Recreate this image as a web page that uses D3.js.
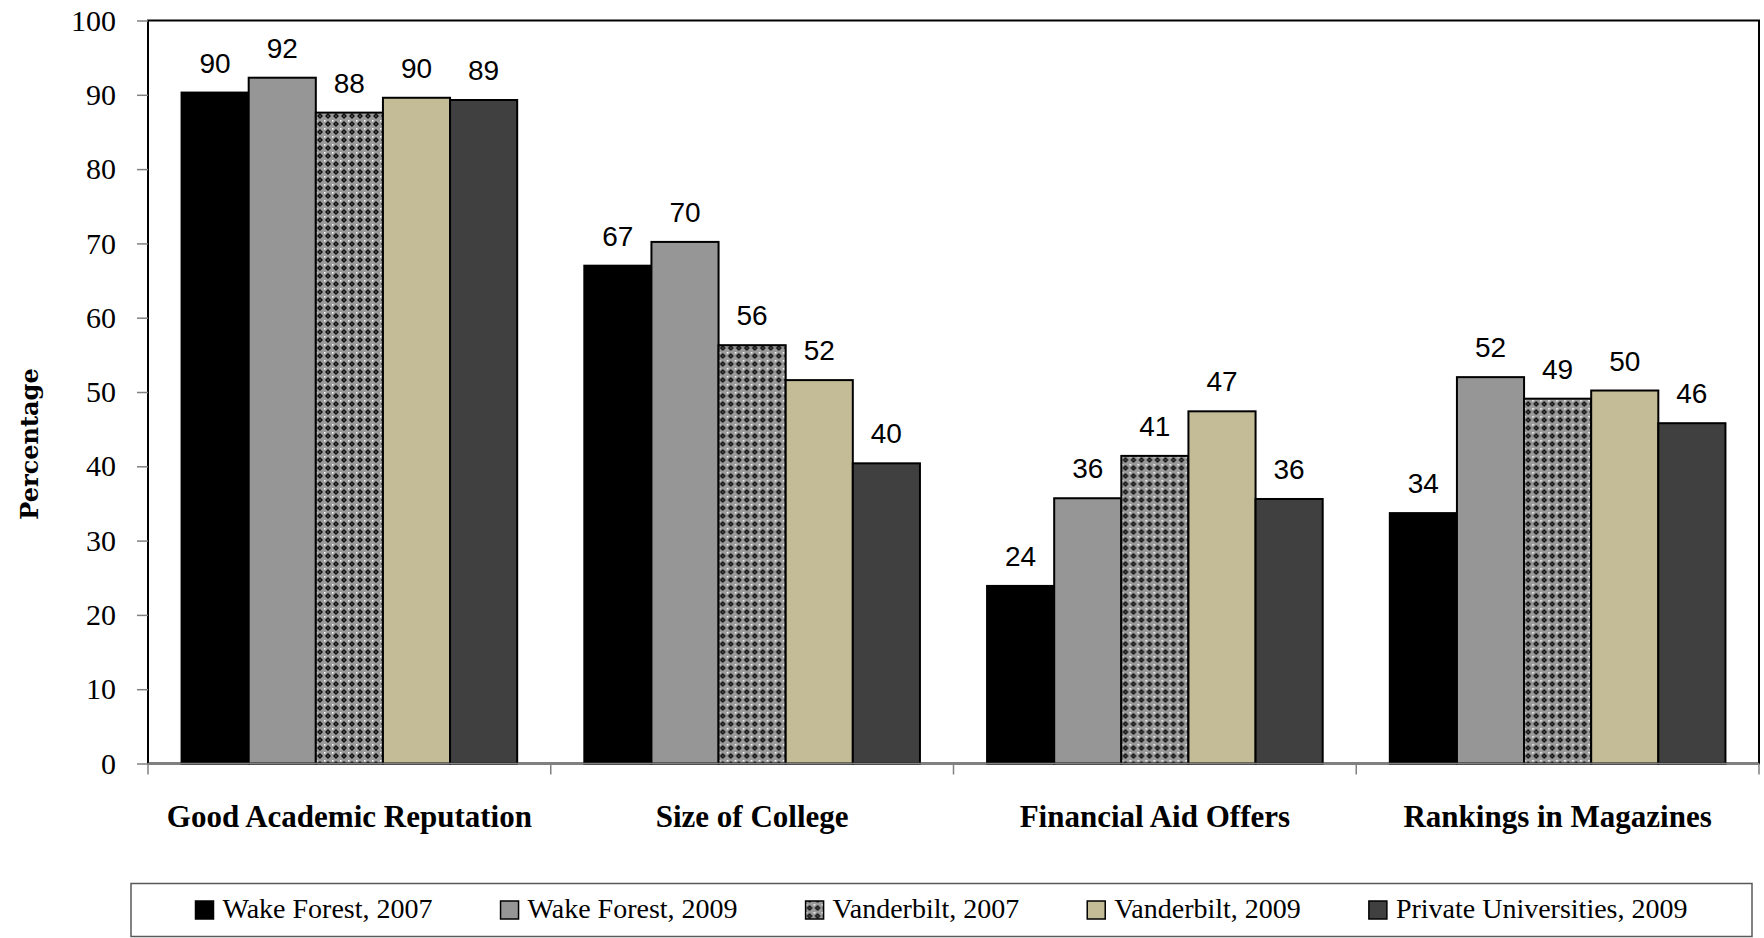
<!DOCTYPE html>
<html>
<head>
<meta charset="utf-8">
<script src="https://cdn.jsdelivr.net/npm/d3@7"></script>
<style>
    body { margin: 0; background: #fff; }
    svg { display: block; }
</style>
</head>
<body>
<div id="chart"></div>
<script>
// Chart data
const categories = ['Good Academic Reputation', 'Size of College', 'Financial Aid Offers', 'Rankings in Magazines'];
const seriesNames = ['Wake Forest, 2007', 'Wake Forest, 2009', 'Vanderbilt, 2007', 'Vanderbilt, 2009', 'Private Universities, 2009'];
const wakeForest2007 = [90.3, 67.0, 23.9, 33.7];
const wakeForest2009 = [92.3, 70.2, 35.7, 52.0];
const vanderbilt2007 = [87.6, 56.3, 41.4, 49.1];
const vanderbilt2009 = [89.6, 51.6, 47.4, 50.2];
const private2009 = [89.3, 40.4, 35.6, 45.8];
const yTicks = [0, 10, 20, 30, 40, 50, 60, 70, 80, 90, 100];

const seriesValues = [wakeForest2007, wakeForest2009, vanderbilt2007, vanderbilt2009, private2009];
const fills = ['#000000', '#969696', 'url(#diamonds)', '#c4bc96', '#404040'];

const width = 1764, height = 938;
const plot = { left: 148, right: 1759, top: 20.5, bottom: 763.5 };

const svg = d3.select('#chart')
    .append('svg')
    .attr('width', width)
    .attr('height', height);

// Pattern for the Vanderbilt 2007 bars
const defs = svg.append('defs');
const pat = defs.append('pattern')
    .attr('id', 'diamonds')
    .attr('patternUnits', 'userSpaceOnUse')
    .attr('width', 8)
    .attr('height', 8);
pat.append('rect').attr('width', 8).attr('height', 8).attr('fill', '#9a9a9a');
pat.append('path').attr('d', 'M4,1 L7,4 L4,7 L1,4 Z').attr('fill', '#111');
pat.append('rect').attr('x', 3.5).attr('y', 3.5).attr('width', 1).attr('height', 1).attr('fill', '#bbb');
pat.append('rect').attr('x', 0).attr('y', 0).attr('width', 1.5).attr('height', 1.5).attr('fill', '#fff');

// Scales
const x0 = d3.scaleBand()
    .domain(categories)
    .range([plot.left, plot.right])
    .padding(0);

const x1 = d3.scaleBand()
    .domain(seriesNames)
    .range([0, x0.bandwidth()])
    .paddingInner(0)
    .paddingOuter(0.5);

const y = d3.scaleLinear()
    .domain([0, 100])
    .range([plot.bottom, plot.top]);

// Plot frame
svg.append('rect')
    .attr('x', plot.left)
    .attr('y', plot.top)
    .attr('width', plot.right - plot.left)
    .attr('height', plot.bottom - plot.top)
    .attr('fill', '#fff')
    .attr('stroke', '#000')
    .attr('stroke-width', 2);

// Y axis
const yAxis = svg.append('g')
    .attr('transform', `translate(${plot.left},0)`)
    .call(d3.axisLeft(y).tickValues(yTicks).tickSize(11).tickPadding(21));
yAxis.select('.domain').remove();
yAxis.selectAll('.tick line').attr('stroke', '#808080').attr('stroke-width', 1.5);
yAxis.selectAll('.tick text')
    .attr('fill', '#000')
    .style('font-family', '"Liberation Serif", "Times New Roman", serif')
    .style('font-size', '30px');

// Bars
const groups = svg.append('g')
    .selectAll('g')
    .data(categories)
    .enter()
    .append('g')
    .attr('transform', d => `translate(${x0(d)},0)`);

groups.selectAll('rect')
    .data((d, i) => seriesNames.map((s, j) => ({ series: s, value: seriesValues[j][i], fill: fills[j] })))
    .enter()
    .append('rect')
    .attr('x', d => x1(d.series))
    .attr('y', d => y(d.value))
    .attr('width', x1.bandwidth())
    .attr('height', d => y(0) - y(d.value))
    .attr('fill', d => d.fill)
    .attr('stroke', '#000')
    .attr('stroke-width', 2);

// Data labels
groups.selectAll('text.value')
    .data((d, i) => seriesNames.map((s, j) => ({ series: s, value: seriesValues[j][i] })))
    .enter()
    .append('text')
    .attr('class', 'value')
    .attr('x', d => x1(d.series) + x1.bandwidth() / 2)
    .attr('y', d => y(d.value) - 20)
    .attr('text-anchor', 'middle')
    .style('font-family', '"Liberation Sans", Arial, sans-serif')
    .style('font-size', '28px')
    .text(d => Math.round(d.value));

// X axis line and tick marks at category boundaries
svg.append('line')
    .attr('x1', plot.left).attr('x2', plot.right)
    .attr('y1', plot.bottom).attr('y2', plot.bottom)
    .attr('stroke', '#808080')
    .attr('stroke-width', 1.5);

const boundaries = categories.map(c => x0(c)).concat([plot.right]);
svg.append('g')
    .selectAll('line')
    .data(boundaries)
    .enter()
    .append('line')
    .attr('x1', d => d).attr('x2', d => d)
    .attr('y1', plot.bottom).attr('y2', plot.bottom + 11)
    .attr('stroke', '#808080')
    .attr('stroke-width', 1.5);

// Category labels
svg.append('g')
    .selectAll('text')
    .data(categories)
    .enter()
    .append('text')
    .attr('x', d => x0(d) + x0.bandwidth() / 2)
    .attr('y', 827)
    .attr('text-anchor', 'middle')
    .style('font-family', '"Liberation Serif", "Times New Roman", serif')
    .style('font-weight', 'bold')
    .style('font-size', '31px')
    .text(d => d);

// Y axis title
svg.append('text')
    .attr('transform', 'translate(38,444) rotate(-90)')
    .attr('text-anchor', 'middle')
    .style('font-family', '"DejaVu Serif", serif')
    .style('font-weight', 'bold')
    .style('font-size', '24px')
    .text('Percentage');

// Legend
const legendBox = { x: 131, y: 883.5, w: 1621, h: 53 };
svg.append('rect')
    .attr('x', legendBox.x)
    .attr('y', legendBox.y)
    .attr('width', legendBox.w)
    .attr('height', legendBox.h)
    .attr('fill', '#fff')
    .attr('stroke', '#595959')
    .attr('stroke-width', 1.5);

const legend = svg.append('g');
const items = legend.selectAll('g')
    .data(seriesNames)
    .enter()
    .append('g');

items.append('rect')
    .attr('x', 0)
    .attr('y', 901)
    .attr('width', 18)
    .attr('height', 18)
    .attr('fill', (d, i) => fills[i])
    .attr('stroke', '#000')
    .attr('stroke-width', 1.5);

items.append('text')
    .attr('x', 27)
    .attr('y', 918)
    .style('font-family', '"Liberation Serif", "Times New Roman", serif')
    .style('font-size', '28px')
    .text(d => d);

// Lay out legend items centred in the box
const gap = 68;
const itemWidths = [];
items.each(function() {
    itemWidths.push(27 + d3.select(this).select('text').node().getComputedTextLength());
});
const total = d3.sum(itemWidths) + gap * (itemWidths.length - 1);
let cursor = legendBox.x + (legendBox.w - total) / 2;
items.attr('transform', (d, i) => {
    const t = `translate(${cursor},0)`;
    cursor += itemWidths[i] + gap;
    return t;
});
</script>
</body>
</html>
